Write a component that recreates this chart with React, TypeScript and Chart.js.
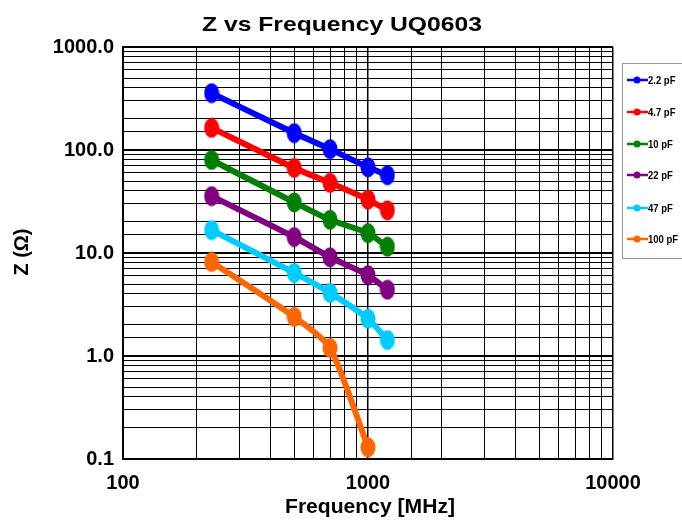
import React, { useEffect, useRef } from 'react';
import { Chart, registerables } from 'chart.js';
Chart.register(...registerables);

const frequencies = [230, 500, 700, 1000, 1200];
const seriesLabels = ['2.2 pF', '4.7 pF', '10 pF', '22 pF', '47 pF', '100 pF'];
const z2p2 = [357, 146, 102, 68, 57];
const z4p7 = [164, 67, 48, 33, 26];
const z10 = [80, 31, 21, 15.6, 11.5];
const z22 = [35.7, 14.3, 9.1, 6.1, 4.4];
const z47 = [16.7, 6.4, 4.1, 2.3, 1.43];
const z100 = [8.2, 2.4, 1.2, 0.13];
const seriesValues = [z2p2, z4p7, z10, z22, z47, z100];
const colors = ['#0000FF', '#FF0000', '#008000', '#800080', '#00CCFF', '#FF6600'];
const xTickLabels = ['100', '1000', '10000'];
const yTickLabels = ['0.1', '1.0', '10.0', '100.0', '1000.0'];

const FONT = "Arial, 'Liberation Sans', sans-serif";

function ellipse(color: string) {
  const c = document.createElement('canvas');
  c.width = 16;
  c.height = 21;
  const g = c.getContext('2d')!;
  g.fillStyle = color;
  g.beginPath();
  g.ellipse(8, 10.5, 7.5, 10, 0, 0, Math.PI * 2);
  g.fill();
  return c;
}

const isDecade = (v: number) => Math.abs(Math.log10(v) - Math.round(Math.log10(v))) < 1e-6;

function stretchedText(ctx: CanvasRenderingContext2D, text: string, x: number, y: number, width: number, rot = 0) {
  const w = ctx.measureText(text).width;
  ctx.save();
  ctx.translate(x, y);
  ctx.rotate(rot);
  ctx.scale(width / w, 1);
  ctx.textAlign = 'center';
  ctx.textBaseline = 'middle';
  ctx.fillText(text, 0, 0);
  ctx.restore();
}

export default function App() {
  const ref = useRef<HTMLCanvasElement>(null);
  useEffect(() => {
    const overlay = {
      id: 'overlay',
      afterDraw(chart: any) {
        const ctx = chart.ctx;
        const area = chart.chartArea;
        ctx.save();
        ctx.fillStyle = '#000';
        ctx.font = `bold 21px ${FONT}`;
        stretchedText(ctx, 'Z vs Frequency UQ0603', 342, 25, 280);
        ctx.font = `bold 20px ${FONT}`;
        stretchedText(ctx, 'Frequency [MHz]', (area.left + area.right) / 2 + 2, 507, 170);
        ctx.font = `bold 20px ${FONT}`;
        stretchedText(ctx, 'Z (Ω)', 22, 252, 47, -Math.PI / 2);
        // legend
        ctx.strokeStyle = '#999';
        ctx.lineWidth = 1;
        ctx.strokeRect(622.5, 63.5, 60, 195);
        const ys = [80, 112, 144, 175, 208, 239];
        seriesLabels.forEach((lab, i) => {
          const y = ys[i];
          ctx.strokeStyle = colors[i];
          ctx.fillStyle = colors[i];
          ctx.lineWidth = 2.5;
          ctx.beginPath();
          ctx.moveTo(627, y);
          ctx.lineTo(648, y);
          ctx.stroke();
          ctx.beginPath();
          ctx.arc(637, y, 3.5, 0, Math.PI * 2);
          ctx.fill();
          ctx.fillStyle = '#000';
          ctx.font = `bold 10px ${FONT}`;
          ctx.textAlign = 'left';
          ctx.textBaseline = 'middle';
          ctx.save();
          ctx.translate(648, y + 1);
          ctx.scale(0.95, 1);
          ctx.fillText(lab, 0, 0);
          ctx.restore();
        });
        ctx.restore();
      },
    };
    const chart = new Chart(ref.current!, {
      type: 'line',
      data: {
        datasets: seriesLabels.map((lab, i) => ({
          label: lab,
          data: seriesValues[i].map((v, j) => ({ x: frequencies[j], y: v })),
          borderColor: colors[i],
          backgroundColor: colors[i],
          borderWidth: 6,
          pointStyle: ellipse(colors[i]) as any,
          pointRadius: 8,
          tension: 0.2,
        })),
      },
      options: {
        animation: false,
        responsive: false,
        maintainAspectRatio: false,
        layout: { padding: { top: 47, right: 69, left: 0, bottom: 0 } },
        plugins: { legend: { display: false }, title: { display: false }, tooltip: { enabled: false } },
        scales: {
          x: {
            type: 'logarithmic',
            min: 100,
            max: 10000,
            border: { display: true, color: '#000', width: 2 },
            grid: {
              color: '#000',
              lineWidth: (c: any) => (c.tick && isDecade(c.tick.value) ? 1.5 : 1),
              drawTicks: false,
            },
            ticks: {
              autoSkip: false,
              maxRotation: 0,
              padding: 12,
              color: '#000',
              font: { family: FONT, size: 20, weight: 'bold' },
              callback: (v: any) => {
                if (!isDecade(v)) return '';
                const s = String(Math.round(v));
                return xTickLabels.includes(s) ? s : '';
              },
            },
            afterFit: (s: any) => { s.height = 61; },
          },
          y: {
            type: 'logarithmic',
            min: 0.1,
            max: 1000,
            border: { display: true, color: '#000', width: 2 },
            grid: {
              color: '#000',
              lineWidth: (c: any) => (c.tick && isDecade(c.tick.value) ? 2 : 1),
              drawTicks: false,
            },
            ticks: {
              autoSkip: false,
              padding: 9,
              color: '#000',
              font: { family: FONT, size: 20, weight: 'bold' },
              callback: (v: any) => {
                if (!isDecade(v)) return '';
                const s = Number(v).toFixed(1);
                return yTickLabels.includes(s) ? s : '';
              },
            },
            afterFit: (s: any) => { s.width = 123; },
          },
        },
      },
      plugins: [overlay],
    } as any);
    return () => chart.destroy();
  }, []);
  return (
    <div style={{ position: 'fixed', left: 0, top: 0, width: 682, height: 520, background: '#fff' }}>
      <canvas ref={ref} width={682} height={520} style={{ width: 682, height: 520 }} />
    </div>
  );
}
